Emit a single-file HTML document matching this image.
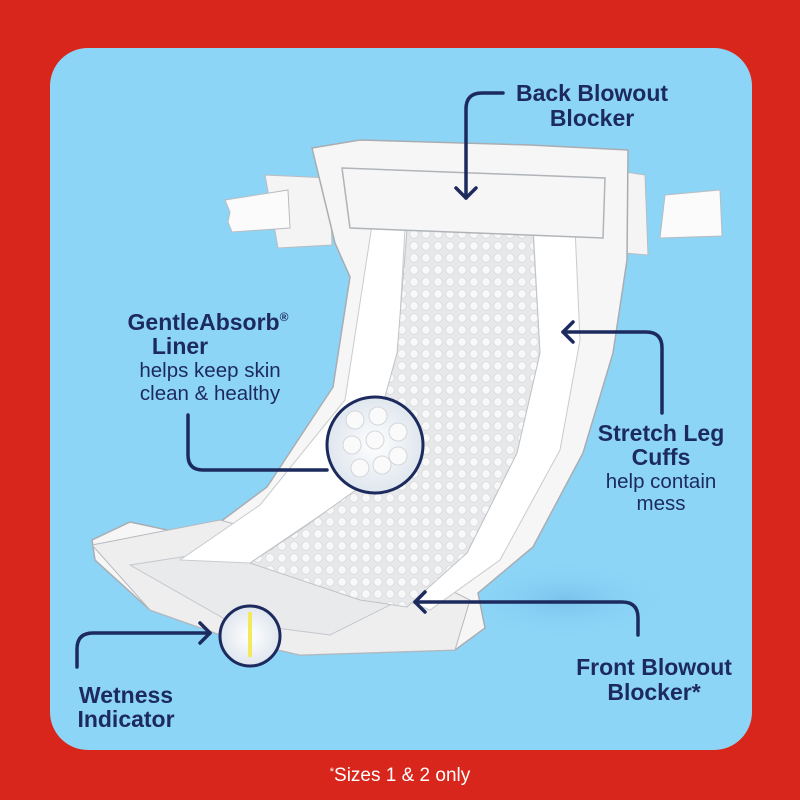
<!DOCTYPE html>
<html><head><meta charset="utf-8"><style>
html,body{margin:0;padding:0;background:#d9261c;}
svg{display:block}
text{font-family:"Liberation Sans",sans-serif;fill:#1c2a5e}
.b{font-weight:bold;font-size:23px}
.r{font-size:20.5px}
</style></head><body>
<svg width="800" height="800" viewBox="0 0 800 800" xmlns="http://www.w3.org/2000/svg">
<defs>
<pattern id="dots" width="12" height="12" patternUnits="userSpaceOnUse">
<rect width="12" height="12" fill="#e6e8ea"/>
<circle cx="6" cy="6" r="4.3" fill="#f8f8f8" stroke="#d6d8db" stroke-width="0.7"/>
</pattern>
<radialGradient id="sh" cx="0.5" cy="0.5" r="0.5"><stop offset="0" stop-color="#6db6e4" stop-opacity="0.6"/><stop offset="1" stop-color="#8dd5f7" stop-opacity="0"/></radialGradient>
<radialGradient id="lens" cx="0.5" cy="0.5" r="0.5"><stop offset="0" stop-color="#ffffff"/><stop offset="1" stop-color="#dfe6ee"/></radialGradient>
</defs>
<rect x="50" y="48" width="702" height="702" rx="38" fill="#8dd5f7"/>
<ellipse cx="565" cy="600" rx="110" ry="40" fill="url(#sh)"/>
<!-- tabs -->
<path d="M265 175 L330 178 L332 245 L278 248 Z" fill="#f4f4f4" stroke="#b8bcc0"/>
<path d="M225 200 L288 190 L290 228 L232 232 L228 222 L230 212 Z" fill="#fbfbfb" stroke="#b8bcc0"/>
<path d="M580 165 L645 175 L648 255 L585 250 Z" fill="#f4f4f4" stroke="#b8bcc0"/>
<path d="M665 195 L720 190 L722 236 L660 238 Z" fill="#fbfbfb" stroke="#b8bcc0"/>
<!-- outer body -->
<path d="M312 148 L360 140 L530 145 L628 150 L627 260 L613 353 L583 453 L533 547 L478 593 L485 628 L455 650 L300 655 L235 640 L150 610 L95 560 L92 540 L130 522 L200 537 L267 487 L333 387 L350 277 L335 243 Z" fill="#f6f6f6" stroke="#a9adb2" stroke-width="1.5"/>
<!-- front flap -->
<path d="M92 545 L220 520 L420 575 L470 600 L455 650 L300 655 L235 640 L150 610 Z" fill="#eeeeef" stroke="#b5b9bd"/>
<path d="M130 565 L240 548 L400 600 L330 635 L230 622 Z" fill="#e9eaec" stroke="#c4c7cb"/>
<!-- cuffs -->
<path d="M372 225 L405 228 L398 353 L362 487 L250 563 L180 560 L260 505 L345 400 Z" fill="#ffffff" stroke="#c8cbcf"/>
<path d="M533 225 L575 228 L580 340 L560 450 L500 560 L430 610 L405 600 L467 553 L517 453 L540 353 Z" fill="#ffffff" stroke="#c8cbcf"/>
<!-- dotted pad -->
<path d="M407 230 L533 233 L540 353 L517 453 L467 553 L407 607 L360 600 L250 563 L300 530 L360 487 L397 353 Z" fill="url(#dots)" stroke="#c0c3c7"/>
<!-- back band -->
<path d="M342 168 L605 178 L603 238 L350 228 Z" fill="#f6f6f6" stroke="#b0b4b8" stroke-width="1.5"/>
<!-- lenses -->
<circle cx="375" cy="445" r="48" fill="url(#lens)" stroke="#1c2a5e" stroke-width="3"/>
<g fill="#fafafa" stroke="#d3d7dc">
<circle cx="355" cy="420" r="9"/><circle cx="378" cy="416" r="9"/><circle cx="398" cy="432" r="9"/><circle cx="352" cy="445" r="9"/><circle cx="375" cy="440" r="9"/><circle cx="398" cy="456" r="9"/><circle cx="360" cy="468" r="9"/><circle cx="382" cy="465" r="9"/>
</g>
<circle cx="250" cy="636" r="30" fill="url(#lens)" stroke="#1c2a5e" stroke-width="3"/>
<rect x="248" y="612" width="4" height="45" fill="#f2ea5c"/>
<!-- connectors -->
<g fill="none" stroke="#1c2a5e" stroke-width="3.5" stroke-linecap="round" stroke-linejoin="round">
<path d="M503 93 L482 93 Q466 93 466 109 L466 198"/><path d="M456 188 L466 198 L476 188"/>
<path d="M188 415 L188 455 Q188 470 203 470 L327 470"/>
<path d="M662 413 L662 348 Q662 332 646 332 L563 332"/><path d="M573 322 L563 332 L573 342"/>
<path d="M638 635 L638 618 Q638 602 622 602 L415 602"/><path d="M425 592 L415 602 L425 612"/>
<path d="M77 667 L77 649 Q77 633 93 633 L210 633"/><path d="M200 623 L210 633 L200 643"/>
</g>
<!-- labels -->
<text class="b" x="592" y="101" text-anchor="middle">Back Blowout</text>
<text class="b" x="592" y="126" text-anchor="middle">Blocker</text>
<text class="b" x="208" y="330" text-anchor="middle">GentleAbsorb<tspan font-size="12" dy="-9">®</tspan></text>
<text class="b" x="180" y="354" text-anchor="middle">Liner</text>
<text class="r" x="210" y="377" text-anchor="middle">helps keep skin</text>
<text class="r" x="210" y="400" text-anchor="middle">clean &amp; healthy</text>
<text class="b" x="661" y="441" text-anchor="middle">Stretch Leg</text>
<text class="b" x="661" y="465" text-anchor="middle">Cuffs</text>
<text class="r" x="661" y="488" text-anchor="middle">help contain</text>
<text class="r" x="661" y="510" text-anchor="middle">mess</text>
<text class="b" x="654" y="675" text-anchor="middle">Front Blowout</text>
<text class="b" x="654" y="700" text-anchor="middle">Blocker*</text>
<text class="b" x="126" y="703" text-anchor="middle">Wetness</text>
<text class="b" x="126" y="727" text-anchor="middle">Indicator</text>
<text x="400" y="781" text-anchor="middle" style="fill:#fff;font-size:19px"><tspan font-size="11" dy="-6">*</tspan><tspan dy="6">Sizes 1 &amp; 2 only</tspan></text>
</svg>
</body></html>
